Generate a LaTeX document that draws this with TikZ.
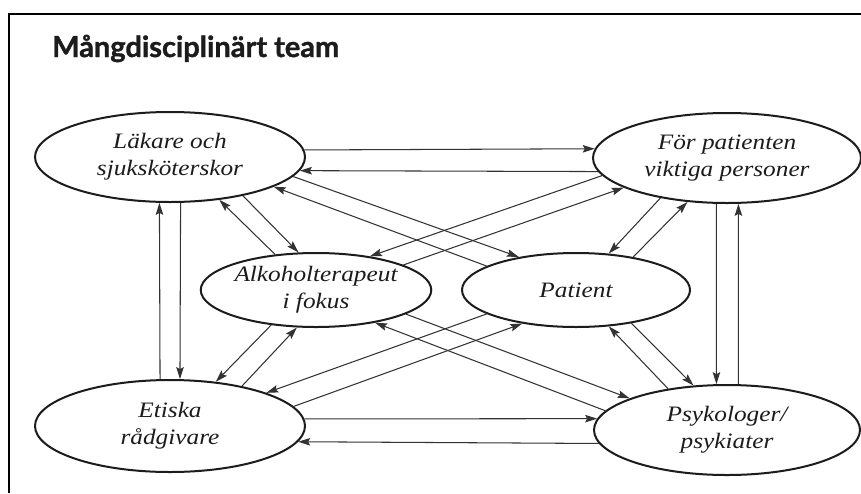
\documentclass[tikz,border=0pt]{standalone}
\usepackage{fontspec}
\usetikzlibrary{shapes.geometric,arrows.meta}
\newfontfamily\labelfont[FakeStretch=1.15]{Liberation Serif}
\newfontfamily\headfont[BoldFeatures={FakeBold=1.2}]{Lato}
\definecolor{ink}{HTML}{1C1C1C}
\definecolor{wire}{HTML}{333333}
\tikzset{
  oval/.style={ellipse, draw=ink, line width=2pt, fill=white, inner sep=0pt,
    align=center, text=ink, font=\fontsize{22}{27}\selectfont\labelfont\itshape},
  link/.style={draw=wire, line width=1.05pt,
    -{Stealth[length=12pt,width=7.5pt,inset=2pt]}},
  frameline/.style={draw=black, line width=2pt},
}
\begin{document}
\begin{tikzpicture}[x=1pt,y=-1pt]
\useasboundingbox (0,0) rectangle (861,493);
\fill[white] (0,0) rectangle (861,493);

% open frame: left and top edges
\coordinate (fbl) at (9,493);
\coordinate (ftl) at (9,14);
\coordinate (ftr) at (861,14);
\draw[frameline] (fbl) -- (ftl) -- (ftr);

% heading
\node[anchor=base west, inner sep=0pt, text=ink,
  font=\fontsize{29}{34}\selectfont\headfont\bfseries] (title) at (52,57)
  {Mångdisciplinärt team};

% team members
\node[oval, minimum width=270pt, minimum height=90pt] (L)  at (170,157) {Läkare och\\sjuksköterskor};
\node[oval, minimum width=268pt, minimum height=90pt] (F)  at (727,158) {För patienten\\viktiga personer};
\node[oval, minimum width=230pt, minimum height=74pt] (A)  at (316,290) {Alkoholterapeut\\i fokus};
\node[oval, minimum width=228pt, minimum height=74pt] (Pa) at (576,290) {Patient};
\node[oval, minimum width=270pt, minimum height=92pt] (E)  at (170,426) {Etiska\\rådgivare};
\node[oval, minimum width=266pt, minimum height=90pt] (P)  at (727,430) {Psykologer/\\psykiater};

% horizontal pairs
\draw[link] (L.3)    -- (F.176);
\draw[link] (F.-174) -- (L.-6);
\draw[link] (E.3)    -- (P.175);
\draw[link] (P.-174) -- (E.-7);

% vertical pairs
\draw[link] (E.102)  -- (L.-103);
\draw[link] (L.-77)  -- (E.78);
\draw[link] (F.-103) -- (P.103);
\draw[link] (P.76)   -- (F.-76);

% short diagonals
\draw[link] (A.139)  -- (L.-41);
\draw[link] (L.-28)  -- (A.115);
\draw[link] (F.-149) -- (Pa.48);
\draw[link] (Pa.30)  -- (F.-132);
\draw[link] (A.-142) -- (E.44);
\draw[link] (E.29)   -- (A.-117);
\draw[link] (P.145)  -- (Pa.-48);
\draw[link] (Pa.-31) -- (P.127);

% long diagonals
\draw[link] (L.-9)    -- (Pa.150);
\draw[link] (Pa.165)  -- (L.-16);
\draw[link] (F.-172)  -- (A.32);
\draw[link] (A.16)    -- (F.-164);
\draw[link] (A.-15)   -- (P.162);
\draw[link] (P.171)   -- (A.-29);
\draw[link] (Pa.-165) -- (E.19);
\draw[link] (E.9)     -- (Pa.-148);
\end{tikzpicture}
\end{document}
